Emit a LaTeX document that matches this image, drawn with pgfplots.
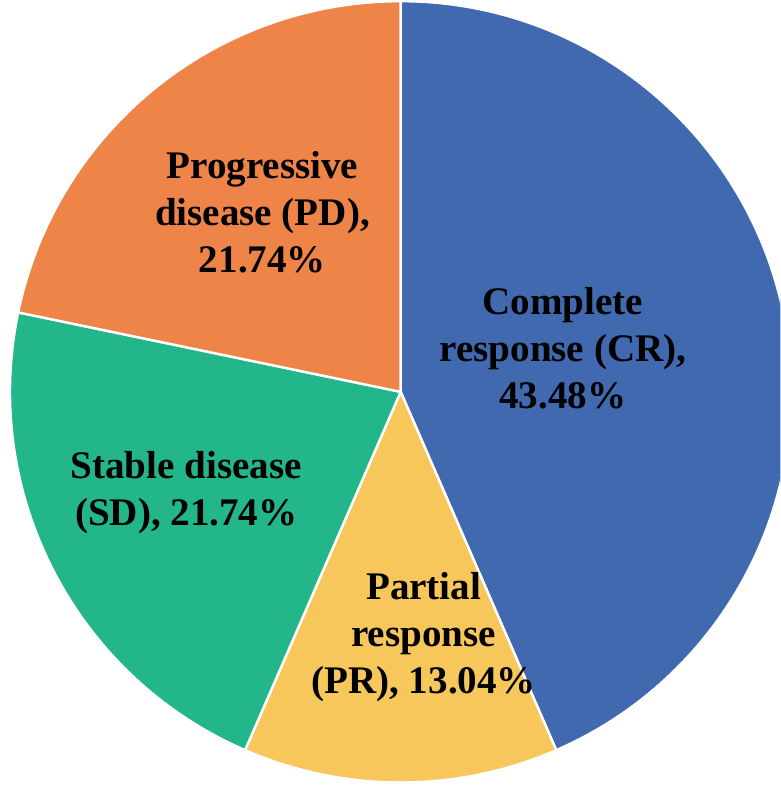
\documentclass[border=0pt]{standalone}
\usepackage{pgfplots}
\pgfplotsset{compat=1.18}
\usepackage{fontspec}
\setmainfont{Liberation Serif}
\definecolor{cr}{HTML}{4169B0}
\definecolor{pr}{HTML}{F7C75C}
\definecolor{sd}{HTML}{22B68A}
\definecolor{pd}{HTML}{EF8448}
\begin{document}
\begin{tikzpicture}
\begin{axis}[x=0.5pt,y=0.5pt,xmin=0,xmax=779,ymin=0,ymax=785,
  hide axis,clip=true,scale only axis,
  nodes={font=\fontsize{19.5}{23.5}\selectfont\bfseries,align=center,text=black}]
% shares (percent): CR 43.48, PR 13.04, SD 21.74, PD 21.74 ; start at 90 deg, clockwise
\fill[cr,draw=white,line width=1.2pt] (axis cs:400,392.5) -- ++(90:195pt) arc[start angle=90,end angle={90-43.48*3.6},radius=195pt] -- cycle;
\fill[pr,draw=white,line width=1.2pt] (axis cs:400,392.5) -- ++({90-43.48*3.6}:195pt) arc[start angle={90-43.48*3.6},end angle={90-(43.48+13.04)*3.6},radius=195pt] -- cycle;
\fill[sd,draw=white,line width=1.2pt] (axis cs:400,392.5) -- ++({90-(43.48+13.04)*3.6}:195pt) arc[start angle={90-(43.48+13.04)*3.6},end angle={90-(43.48+13.04+21.74)*3.6},radius=195pt] -- cycle;
\fill[pd,draw=white,line width=1.2pt] (axis cs:400,392.5) -- ++({90-(43.48+13.04+21.74)*3.6}:195pt) arc[start angle={90-(43.48+13.04+21.74)*3.6},end angle={90-(43.48+13.04+21.74+21.74)*3.6},radius=195pt] -- cycle;
\node at (axis cs:562,436) {Complete\\response (CR),\\43.48\%};
\node at (axis cs:262,572) {Progressive\\disease (PD),\\21.74\%};
\node at (axis cs:186,292) {Stable disease\\(SD), 21.74\%};
\node at (axis cs:423,148) {Partial\\response\\(PR), 13.04\%};
\end{axis}
\end{tikzpicture}
\end{document}
